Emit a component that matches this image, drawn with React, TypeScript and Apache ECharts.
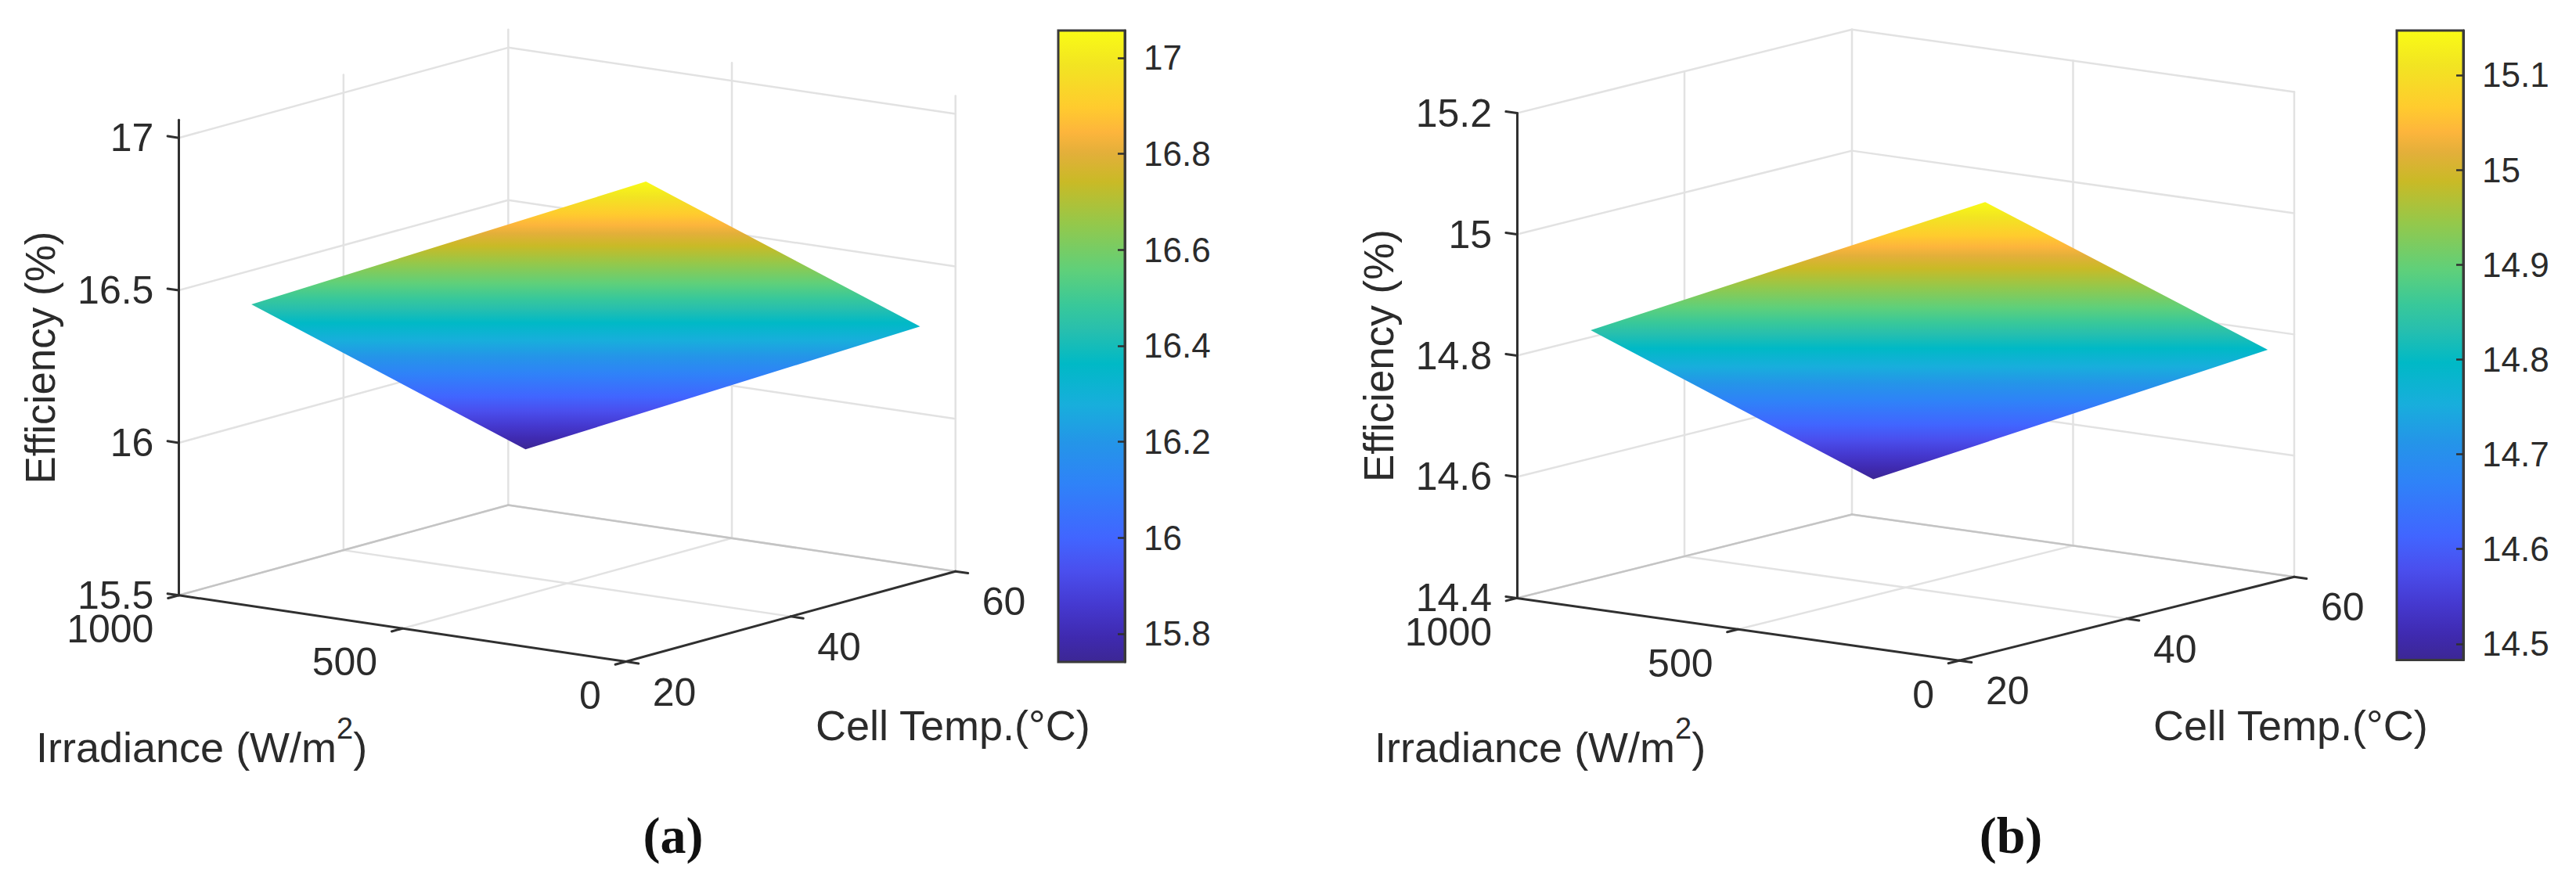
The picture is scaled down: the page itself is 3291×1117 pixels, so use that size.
import React, { useEffect, useRef } from "react";
import * as echarts from "echarts";

const irradianceTicks = [0, 500, 1000];
const tempTicks = [20, 40, 60];

const effTicksA = [15.5, 16, 16.5, 17];
const effTicksB = [14.4, 14.6, 14.8, 15, 15.2];
const barTicksA = [15.8, 16, 16.2, 16.4, 16.6, 16.8, 17];
const barTicksB = [14.5, 14.6, 14.7, 14.8, 14.9, 15, 15.1];

const surfaceGA = [151, 764];
const surfaceTA = [16, 63.9];
const surfaceEA = [[16.193, 16.241], [16.535, 16.583]];
const surfaceGB = [128, 767];
const surfaceTB = [16.5, 63.6];
const surfaceEB = [[14.698, 14.749], [14.878, 14.927]];

const colorPositions = [0, 0.04, 0.09, 0.144, 0.196, 0.281, 0.347, 0.406, 0.472, 0.525, 0.564, 0.62, 0.695, 0.76, 0.806, 0.839, 0.878, 0.944, 1];
const colorValues = ["#3C2794", "#3F2AB0", "#4539D0", "#4A4FEE", "#4165FF", "#2F82F8", "#2495E8", "#18AEDC", "#00B9C6", "#27BFAE", "#38C89A", "#5FD07A", "#95C84A", "#C9BA26", "#E3AF3A", "#FDB53C", "#FFCB2E", "#F2E422", "#F9FB15"];

const FONT = "Liberation Sans";
const TEXT = "#2b2b2b";
const AXIS = "#303030";
const GRID = "#e2e2e2";
const FLOOR = "#c4c4c4";
const TICK_FONT = 50;
const BAR_FONT = 44;
const NAME_FONT = 54;

// Gradient runs top (offset 0) to bottom (offset 1); the colour positions count from the bottom.
const stops = () =>
  colorPositions
    .map((p, i) => ({ offset: 1 - p, color: colorValues[i] }))
    .reverse();
const gradient = () => new echarts.graphic.LinearGradient(0, 0, 0, 1, stops());

type Panel = {
  left: number; right: number; top: number; bottom: number;
  eMin: number; eMax: number; effTicks: number[];
  front: number; gTilt: number; tTilt: number;
  barLeft: number; barRight: number; barTop: number; barBottom: number;
  barMin: number; barMax: number; barTicks: number[];
  surfG: number[]; surfT: number[]; surfE: number[][];
  nameGap: number;
  irrX: number; tempX: number; capX: number; cap: string;
  gLabel: [number, number]; tLabel: [number, number];
};

const panels: Panel[] = [
  {
    left: 228.4, right: 1220.7, top: 153.2, bottom: 760.8,
    eMin: 15.5, eMax: 17.059, effTicks: effTicksA,
    front: 0.5758, gTilt: 0.2175, tTilt: 0.296,
    barLeft: 1352, barRight: 1437, barTop: 39, barBottom: 846,
    barMin: 15.741, barMax: 17.057, barTicks: barTicksA,
    surfG: surfaceGA, surfT: surfaceTA, surfE: surfaceEA,
    nameGap: 150, irrX: 46, tempX: 1042, capX: 860, cap: "(a)",
    gLabel: [-32, 43], tLabel: [34, 39],
  },
  {
    left: 1938, right: 2931, top: 144.6, bottom: 764.4,
    eMin: 14.4, eMax: 15.2, effTicks: effTicksB,
    front: 0.569, gTilt: 0.103, tTilt: 0.138,
    barLeft: 3062, barRight: 3147, barTop: 39, barBottom: 843.5,
    barMin: 14.483, barMax: 15.147, barTicks: barTicksB,
    surfG: surfaceGB, surfT: surfaceTB, surfE: surfaceEB,
    nameGap: 150, irrX: 1756, tempX: 2751, capX: 2569, cap: "(b)",
    gLabel: [-32, 44], tLabel: [34, 39],
  },
];

function project(p: Panel, api: any, g: number, t: number, e: number) {
  const xf = p.front - (p.front * g) / 1000 + ((1 - p.front) * (t - 20)) / 40;
  const ys = e - (p.gTilt * (1000 - g)) / 1000 + (p.tTilt * (t - 20)) / 40;
  return api.coord([xf, ys]);
}

function segmentSeries(p: Panel, gi: number, rows: number[][], stroke: string, lineWidth: number) {
  return {
    type: "custom",
    xAxisIndex: gi,
    yAxisIndex: gi,
    silent: true,
    data: rows,
    renderItem: (_: any, api: any) => {
      const a = project(p, api, api.value(0), api.value(1), api.value(2));
      const b = project(p, api, api.value(3), api.value(4), api.value(5));
      return {
        type: "line",
        shape: { x1: a[0], y1: a[1], x2: b[0], y2: b[1] },
        style: { stroke, lineWidth, lineCap: "round" },
      };
    },
  };
}

function buildPanel(p: Panel, i: number) {
  const mainIdx = i * 2;
  const barIdx = i * 2 + 1;

  const light: number[][] = [];
  p.effTicks.forEach((e) => {
    light.push([1000, 20, e, 1000, 60, e]);
    light.push([1000, 60, e, 0, 60, e]);
  });
  light.push([1000, 40, p.eMin, 1000, 40, p.eMax]);
  light.push([1000, 60, p.eMin, 1000, 60, p.eMax]);
  light.push([500, 60, p.eMin, 500, 60, p.eMax]);
  light.push([0, 60, p.eMin, 0, 60, p.eMax]);
  light.push([1000, 40, p.eMin, 0, 40, p.eMin]);
  light.push([500, 60, p.eMin, 500, 20, p.eMin]);

  const floor = [
    [1000, 20, p.eMin, 1000, 60, p.eMin],
    [1000, 60, p.eMin, 0, 60, p.eMin],
  ];

  const dark: number[][] = [
    [1000, 20, p.eMin, 0, 20, p.eMin],
    [0, 20, p.eMin, 0, 60, p.eMin],
  ];
  irradianceTicks.forEach((g) => dark.push([g, 20, p.eMin, g, 18.7, p.eMin]));
  tempTicks.forEach((t) => dark.push([0, t, p.eMin, -28, t, p.eMin]));
  p.effTicks.forEach((e) => dark.push([1000, 20, e, 1025, 20, e]));

  const tickText = (
    rows: number[][],
    offset: [number, number],
    align: string
  ) => ({
    type: "custom",
    xAxisIndex: mainIdx,
    yAxisIndex: mainIdx,
    silent: true,
    data: rows,
    renderItem: (_: any, api: any) => {
      const pt = project(p, api, api.value(0), api.value(1), p.eMin);
      return {
        type: "text",
        x: pt[0] + offset[0],
        y: pt[1] + offset[1],
        style: {
          text: String(api.value(2)),
          fontFamily: FONT,
          fontSize: TICK_FONT,
          fill: TEXT,
          textAlign: align,
          textVerticalAlign: "middle",
        },
      };
    },
  });

  const series: any[] = [
    segmentSeries(p, mainIdx, light, GRID, 2.5),
    segmentSeries(p, mainIdx, floor, FLOOR, 2.5),
    segmentSeries(p, mainIdx, dark, AXIS, 3),
    {
      type: "custom",
      xAxisIndex: mainIdx,
      yAxisIndex: mainIdx,
      silent: true,
      data: [[p.surfG[0], p.surfT[0], p.surfE[0][0]]],
      renderItem: (_: any, api: any) => {
        const pts = [
          project(p, api, p.surfG[0], p.surfT[0], p.surfE[0][0]),
          project(p, api, p.surfG[0], p.surfT[1], p.surfE[0][1]),
          project(p, api, p.surfG[1], p.surfT[1], p.surfE[1][1]),
          project(p, api, p.surfG[1], p.surfT[0], p.surfE[1][0]),
        ];
        return {
          type: "polygon",
          shape: { points: pts },
          style: { fill: gradient(), stroke: "none" },
        };
      },
    },
    tickText(irradianceTicks.map((g) => [g, 20, g]), p.gLabel, "right"),
    tickText(tempTicks.map((t) => [0, t, t]), p.tLabel, "left"),
    {
      type: "custom",
      xAxisIndex: barIdx,
      yAxisIndex: barIdx,
      silent: true,
      data: [[0, p.barMin, 1, p.barMax]],
      renderItem: (_: any, api: any) => {
        const a = api.coord([api.value(0), api.value(3)]);
        const b = api.coord([api.value(2), api.value(1)]);
        return {
          type: "rect",
          shape: { x: a[0], y: a[1], width: b[0] - a[0], height: b[1] - a[1] },
          style: { fill: gradient(), stroke: "#3a3a3a", lineWidth: 3 },
        };
      },
    },
  ];

  const grids = [
    { left: p.left, top: p.top, width: p.right - p.left, height: p.bottom - p.top },
    { left: p.barLeft, top: p.barTop, width: p.barRight - p.barLeft, height: p.barBottom - p.barTop },
  ];
  const xAxes = [
    { type: "value", gridIndex: mainIdx, min: 0, max: 1, show: false },
    { type: "value", gridIndex: barIdx, min: 0, max: 1, show: false },
  ];
  const yAxes = [
    {
      type: "value",
      gridIndex: mainIdx,
      min: p.eMin,
      max: p.eMax,
      position: "left",
      name: "Efficiency (%)",
      nameLocation: "middle",
      nameRotate: 90,
      nameGap: p.nameGap,
      nameTextStyle: { fontFamily: FONT, fontSize: 53, color: TEXT },
      splitLine: { show: false },
      axisLine: { show: true, onZero: false, lineStyle: { color: AXIS, width: 3 } },
      axisTick: { show: false, customValues: p.effTicks },
      axisLabel: {
        customValues: p.effTicks,
        margin: 32,
        fontFamily: FONT,
        fontSize: TICK_FONT,
        color: TEXT,
      },
      z: 5,
    },
    {
      type: "value",
      gridIndex: barIdx,
      min: p.barMin,
      max: p.barMax,
      position: "right",
      splitLine: { show: false },
      axisLine: { show: true, onZero: false, lineStyle: { color: "#3a3a3a", width: 3 } },
      axisTick: {
        show: true,
        inside: true,
        length: 9,
        customValues: p.barTicks,
        lineStyle: { color: AXIS, width: 2.5 },
      },
      axisLabel: {
        customValues: p.barTicks,
        margin: 24,
        fontFamily: FONT,
        fontSize: BAR_FONT,
        color: TEXT,
      },
      z: 5,
    },
  ];

  const graphics: any[] = [
    {
      type: "text",
      left: p.irrX,
      top: 912,
      style: {
        text: "{m|Irradiance (W/m}{s|2}{m|)}",
        rich: {
          m: { fontFamily: FONT, fontSize: NAME_FONT, fill: TEXT, verticalAlign: "bottom", lineHeight: 70 },
          s: { fontFamily: FONT, fontSize: 38, fill: TEXT, verticalAlign: "top", lineHeight: 70 },
        },
      },
    },
    {
      type: "text",
      left: p.tempX,
      top: 930 - 30,
      style: { text: "Cell Temp.(°C)", fontFamily: FONT, fontSize: NAME_FONT, fill: TEXT },
    },
    {
      type: "text",
      x: p.capX,
      y: 1067,
      style: {
        text: p.cap,
        fontFamily: "Liberation Serif",
        fontWeight: "bold",
        fontSize: 66,
        fill: "#111111",
        textAlign: "center",
        textVerticalAlign: "middle",
      },
    },
  ];

  return { series, grids, xAxes, yAxes, graphics };
}

export default function App() {
  const ref = useRef<HTMLDivElement>(null);

  useEffect(() => {
    const chart = echarts.init(ref.current!, undefined, { renderer: "svg" });
    const built = panels.map(buildPanel);
    chart.setOption({
      animation: false,
      backgroundColor: "#ffffff",
      grid: built.flatMap((b) => b.grids),
      xAxis: built.flatMap((b) => b.xAxes),
      yAxis: built.flatMap((b) => b.yAxes),
      series: built.flatMap((b) => b.series),
      graphic: built.flatMap((b) => b.graphics),
    });
    return () => chart.dispose();
  }, []);

  return (
    <div
      ref={ref}
      style={{ position: "absolute", left: 0, top: 0, width: 3291, height: 1117 }}
    />
  );
}
